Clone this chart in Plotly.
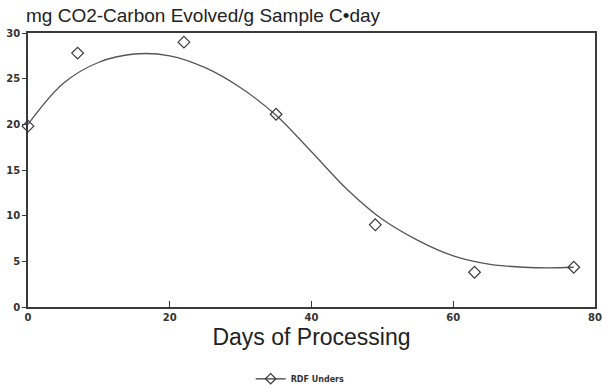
import plotly.graph_objects as go

# Measured data points (RDF Unders)
days = [0, 7, 22, 35, 49, 63, 77]
co2 = [19.8, 27.8, 29.0, 21.1, 9.0, 3.8, 4.35]

# Fitted curve
curve_days = [0, 5, 10, 15, 20, 25, 30, 35, 40, 45, 50, 55, 60, 65, 70, 75, 77]
curve_co2 = [20.0, 24.5, 26.8, 27.7, 27.5, 26.2, 24.0, 21.0, 17.0, 12.9, 9.6, 7.3, 5.6, 4.7, 4.35, 4.3, 4.35]

x_ticks = [0, 20, 40, 60, 80]
y_ticks = [0, 5, 10, 15, 20, 25, 30]

title_text = "mg CO2-Carbon Evolved/g Sample C\u2022day"
x_title = "Days of Processing"
series_name = "RDF Unders"

ink = "#3a3a3a"

fig = go.Figure()
fig.add_trace(go.Scatter(
    x=curve_days, y=curve_co2, mode="lines", line=dict(color="#555555", width=1.3, shape="spline", smoothing=1.0),
    showlegend=False, hoverinfo="skip"))
fig.add_trace(go.Scatter(
    x=days, y=co2, mode="markers",
    marker=dict(symbol="diamond-open", size=9, color=ink, line=dict(width=1.2, color=ink)),
    showlegend=False, cliponaxis=False))
fig.add_trace(go.Scatter(
    x=[None], y=[None], mode="lines+markers", name=series_name,
    line=dict(color=ink, width=1.2),
    marker=dict(symbol="diamond-open", size=8, color=ink, line=dict(width=1.2, color=ink))))

fig.update_layout(
    width=602, height=387,
    margin=dict(l=28, r=7, t=33, b=80, autoexpand=False),
    paper_bgcolor="white", plot_bgcolor="white",
    title=dict(text=title_text, x=26/602, xanchor="left", xref="container",
               y=1 - 15/387, yanchor="middle", yref="container", pad=dict(l=0, r=0, t=0, b=0),
               font=dict(family="Liberation Sans, Arial, sans-serif", size=19, color="#222222")),
    legend=dict(orientation="h", x=0.48, xanchor="center",
                y=-0.262, yanchor="middle",
                font=dict(family="DejaVu Sans, sans-serif", size=8, color="#333333", weight="bold"),
                itemwidth=30),
    showlegend=True,
)
fig.update_xaxes(
    range=[0, 80], tickvals=x_ticks, ticks="inside", ticklen=6, tickcolor=ink,
    showline=True, linecolor=ink, linewidth=1.5, mirror=True, showgrid=False, zeroline=False,
    automargin=False,
    tickfont=dict(family="DejaVu Sans, sans-serif", size=10, color="#333333", weight="bold"),
    title=dict(text=x_title, standoff=7,
               font=dict(family="Liberation Sans, Arial, sans-serif", size=23, color="#222222")))
fig.update_yaxes(
    range=[0, 30], tickvals=y_ticks, ticks="outside", ticklen=4, tickcolor=ink,
    showline=True, linecolor=ink, linewidth=1.5, mirror=True, showgrid=False, zeroline=False,
    automargin=False,
    tickfont=dict(family="DejaVu Sans, sans-serif", size=10, color="#333333", weight="bold"))

fig.write_html("out.html", config={"displayModeBar": False},
               post_script="document.body.style.margin='0';document.body.style.overflow='hidden';")
